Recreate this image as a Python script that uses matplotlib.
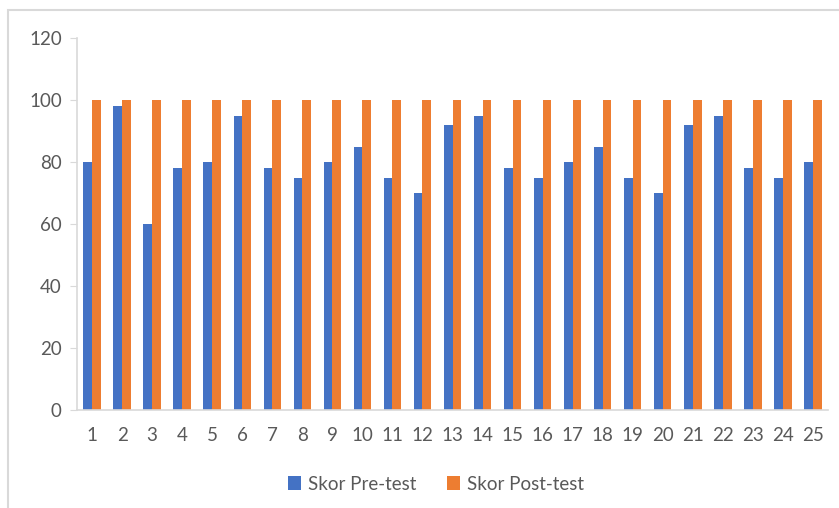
import matplotlib
matplotlib.use("Agg")
import matplotlib.pyplot as plt
import numpy as np
from matplotlib.patches import Rectangle

categories = [str(i) for i in range(1, 26)]
pre_test = [80, 98, 60, 78, 80, 95, 78, 75, 80, 85, 75, 70, 92, 95, 78, 75, 80, 85, 75, 70, 92, 95, 78, 75, 80]
post_test = [100] * 25
series_names = ["Skor Pre-test", "Skor Post-test"]
y_ticks = [0, 20, 40, 60, 80, 100, 120]

plt.rcParams['font.family'] = ['Lato', 'DejaVu Sans']

W, H = 839, 508
fig = plt.figure(figsize=(W / 100, H / 100), dpi=100)
fig.patches.append(Rectangle((8 / W, -0.1), 1.2, 1 - 10 / H + 0.1, transform=fig.transFigure,
                             fill=False, edgecolor="#D9D9D9", linewidth=1.5))

ax = fig.add_axes([77 / W, 1 - 410 / H, (828 - 77) / W, (410 - 38) / H])
x = np.arange(len(categories))
bw = 0.29
ax.bar(x - bw / 2, pre_test, width=bw, color="#4472C4", label=series_names[0])
ax.bar(x + bw / 2, post_test, width=bw, color="#ED7D31", label=series_names[1])

ax.set_xlim(-0.5, len(categories) - 0.5)
ax.set_ylim(0, 120)
ax.set_yticks(y_ticks)
ax.set_xticks(x)
ax.set_xticklabels(categories)

for s in ["top", "right"]:
    ax.spines[s].set_visible(False)
for s in ["left", "bottom"]:
    ax.spines[s].set_color("#D9D9D9")
    ax.spines[s].set_linewidth(1.2)
ax.tick_params(axis="y", length=5, color="#D9D9D9", labelcolor="#595959", labelsize=13.5, pad=6)
ax.tick_params(axis="x", length=0, labelcolor="#595959", labelsize=13.5, pad=12)

fig.legend(loc="center", bbox_to_anchor=(436 / W, 1 - 484 / H), ncol=2, frameon=False,
           fontsize=13.5, labelcolor="#595959", handlelength=0.7, handleheight=0.7,
           handletextpad=0.4, columnspacing=1.6)

fig.savefig("out.png", dpi=100)
